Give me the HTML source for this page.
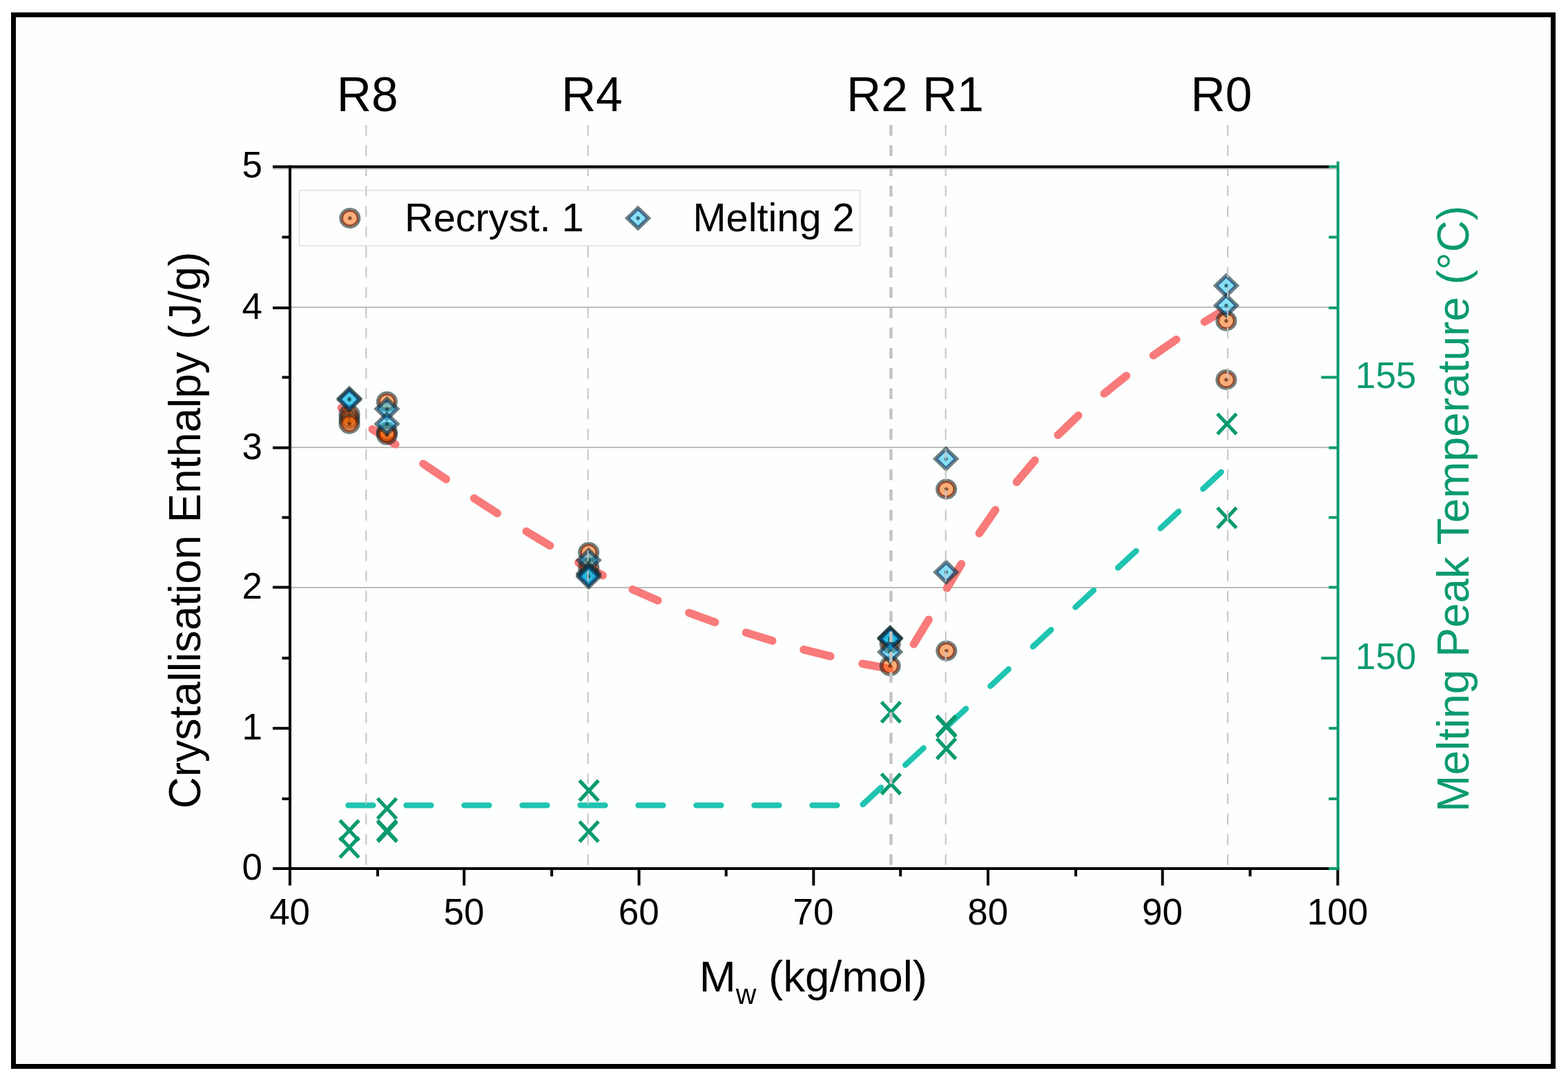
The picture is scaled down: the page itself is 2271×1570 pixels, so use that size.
<!DOCTYPE html>
<html lang="en"><head><meta charset="utf-8">
<title>Crystallisation Enthalpy and Melting Peak Temperature vs Mw</title>
<style>
html,body{margin:0;padding:0;background:#fff;}
body{width:2271px;height:1570px;overflow:hidden;}
svg{display:block;}
text{font-family:"Liberation Sans", sans-serif;}
</style></head><body>
<svg width="2271" height="1570" viewBox="0 0 2271 1570">
<defs>
<g id="mc"><ellipse rx="12.7" ry="12.1" fill="#f9690a" fill-opacity="0.55"/><ellipse rx="11.3" ry="10.7" fill="none" stroke="#520a00" stroke-opacity="0.6" stroke-width="2.9"/><ellipse rx="14.1" ry="13.5" fill="none" stroke="#112b2b" stroke-opacity="0.6" stroke-width="2.9"/><circle r="2.7" fill="#4a1c08" fill-opacity="0.65"/></g>
<g id="md"><path d="M0 -14.7 L15.3 0 L0 14.7 L-15.3 0 Z" fill="#19c3eb" fill-opacity="0.52"/><path d="M0 -12.8 L13.3 0 L0 12.8 L-13.3 0 Z" fill="none" stroke="#07194e" stroke-opacity="0.6" stroke-width="2.8"/><path d="M0 -16.6 L17.2 0 L0 16.6 L-17.2 0 Z" fill="none" stroke="#112b2b" stroke-opacity="0.6" stroke-width="2.8"/><circle r="2.7" fill="#06303c" fill-opacity="0.65"/></g>
<path id="mx" d="M-13.8 -14.7 L13.8 14.7 M13.8 -14.7 L-13.8 14.7" fill="none" stroke="#0a9a70" stroke-width="5.2"/>
</defs>
<rect x="0" y="0" width="2271" height="1570" fill="#ffffff"/>
<rect x="19.5" y="21.5" width="2230" height="1523" fill="#fdfefe" stroke="#000" stroke-width="7"/>
<g stroke="#bcbcbc" stroke-width="2" fill="none">
<line x1="422" y1="851.0" x2="1936" y2="851.0"/>
<line x1="422" y1="648.0" x2="1936" y2="648.0"/>
<line x1="422" y1="445.0" x2="1936" y2="445.0"/>
</g>
<rect x="433.5" y="275.8" width="812" height="80.2" fill="#fefefe" stroke="#dfe0e6" stroke-width="1.6"/>
<g stroke="#f87a7a" stroke-width="11.6" stroke-linecap="round" fill="none">
<line x1="494.4" y1="590.8" x2="499.0" y2="594.0"/>
<line x1="539.3" y1="621.6" x2="572.7" y2="643.6"/>
<line x1="613.0" y1="671.7" x2="646.2" y2="694.1"/>
<line x1="686.6" y1="721.6" x2="720.2" y2="743.4"/>
<line x1="762.3" y1="769.6" x2="796.5" y2="790.2"/>
<line x1="837.8" y1="814.9" x2="873.2" y2="833.5"/>
<line x1="916.2" y1="853.7" x2="952.8" y2="869.7"/>
<line x1="998.0" y1="887.5" x2="1035.6" y2="901.3"/>
<line x1="1080.5" y1="916.2" x2="1118.7" y2="928.0"/>
<line x1="1164.0" y1="940.9" x2="1202.8" y2="950.5"/>
<line x1="1249.0" y1="961.3" x2="1288.4" y2="968.5"/>
<line x1="1323.4" y1="932.9" x2="1345.0" y2="897.5"/>
<line x1="1371.4" y1="852.0" x2="1392.4" y2="816.8"/>
<line x1="1418.4" y1="772.4" x2="1441.6" y2="738.6"/>
<line x1="1472.5" y1="698.2" x2="1498.9" y2="666.8"/>
<line x1="1532.3" y1="630.2" x2="1561.7" y2="601.8"/>
<line x1="1599.3" y1="570.0" x2="1631.3" y2="544.2"/>
<line x1="1670.5" y1="514.7" x2="1703.7" y2="491.7"/>
<line x1="1744.5" y1="466.1" x2="1766.7" y2="452.7"/>
</g>
<g stroke="#1fc4b0" stroke-width="8.4" stroke-dasharray="36 48" stroke-linecap="round" fill="none">
<line x1="504.4" y1="1166.4" x2="1232" y2="1166.4"/>
<line x1="1249.6" y1="1165.1" x2="1771" y2="681.6"/>
</g>
<g>
<use href="#mc" x="506.0" y="600.0"/>
<use href="#mc" x="506.0" y="607.0"/>
<use href="#mc" x="506.0" y="613.7"/>
<use href="#mc" x="560.4" y="581.8"/>
<use href="#mc" x="560.4" y="626.0"/>
<use href="#mc" x="560.4" y="629.8"/>
<use href="#mc" x="852.6" y="800.0"/>
<use href="#mc" x="852.6" y="822.0"/>
<use href="#mc" x="1289.2" y="932.0"/>
<use href="#mc" x="1289.2" y="964.5"/>
<use href="#mc" x="1370.6" y="708.5"/>
<use href="#mc" x="1370.8" y="942.6"/>
<use href="#mc" x="1776.0" y="464.7"/>
<use href="#mc" x="1776.0" y="550.0"/>
<use href="#md" x="506.0" y="577.0"/>
<use href="#md" x="506.0" y="579.0"/>
<use href="#md" x="560.4" y="592.2"/>
<use href="#md" x="560.4" y="614.0"/>
<use href="#md" x="852.6" y="811.3"/>
<use href="#md" x="852.6" y="830.5"/>
<use href="#md" x="852.6" y="833.0"/>
<use href="#md" x="852.6" y="835.6"/>
<use href="#md" x="1289.2" y="923.4"/>
<use href="#md" x="1289.2" y="924.4"/>
<use href="#md" x="1289.2" y="925.6"/>
<use href="#md" x="1289.2" y="944.2"/>
<use href="#md" x="1370.1" y="664.6"/>
<use href="#md" x="1370.3" y="828.7"/>
<use href="#md" x="1776.0" y="413.8"/>
<use href="#md" x="1776.0" y="442.4"/>
<use href="#mx" x="506.0" y="1202.8"/>
<use href="#mx" x="506.0" y="1227.3"/>
<use href="#mx" x="560.5" y="1171.0"/>
<use href="#mx" x="560.5" y="1203.0"/>
<use href="#mx" x="561.0" y="1204.6"/>
<use href="#mx" x="853.0" y="1145.1"/>
<use href="#mx" x="853.0" y="1204.4"/>
<use href="#mx" x="1290.4" y="1031.5"/>
<use href="#mx" x="1290.4" y="1135.4"/>
<use href="#mx" x="1370.6" y="1051.2"/>
<use href="#mx" x="1370.6" y="1052.6"/>
<use href="#mx" x="1370.6" y="1084.4"/>
<use href="#mx" x="1777.0" y="614.0"/>
<use href="#mx" x="1777.0" y="750.0"/>
</g>
<use href="#mc" x="506.8" y="316"/>
<use href="#md" x="924" y="316"/>
<line x1="530.3" y1="181.0" x2="530.3" y2="1256.0" stroke="#c4c4c4" stroke-width="2" stroke-dasharray="15.6 13.74" stroke-dashoffset="0.0" fill="none"/>
<line x1="851.6" y1="181.0" x2="851.6" y2="275.0" stroke="#c4c4c4" stroke-width="2" stroke-dasharray="15.6 13.74" stroke-dashoffset="0.0" fill="none"/>
<line x1="851.6" y1="356.8" x2="851.6" y2="1256.0" stroke="#c4c4c4" stroke-width="2" stroke-dasharray="15.6 13.74" stroke-dashoffset="29.1" fill="none"/>
<line x1="1290.4" y1="181.0" x2="1290.4" y2="1256.0" stroke="#c4c4c4" stroke-width="4.5" stroke-dasharray="15.6 13.74" stroke-dashoffset="0.0" fill="none"/>
<line x1="1369.7" y1="181.0" x2="1369.7" y2="1256.0" stroke="#c4c4c4" stroke-width="2" stroke-dasharray="15.6 13.74" stroke-dashoffset="0.0" fill="none"/>
<line x1="1778.2" y1="181.0" x2="1778.2" y2="1256.0" stroke="#c4c4c4" stroke-width="2" stroke-dasharray="15.6 13.74" stroke-dashoffset="0.0" fill="none"/>
<line x1="395" y1="244.5" x2="1936" y2="244.5" stroke="#c9c3c6" stroke-width="2"/>
<g stroke="#000" stroke-width="4" fill="none">
<line x1="420" y1="239.5" x2="420" y2="1260"/>
<line x1="395" y1="1258" x2="1940" y2="1258"/>
<line x1="395" y1="241.4" x2="1925" y2="241.4"/>
<line x1="395" y1="1054.8" x2="420" y2="1054.8"/>
<line x1="395" y1="850.6" x2="420" y2="850.6"/>
<line x1="395" y1="648.5" x2="420" y2="648.5"/>
<line x1="395" y1="445.9" x2="420" y2="445.9"/>
<line x1="408.5" y1="1157.0" x2="420" y2="1157.0"/>
<line x1="408.5" y1="953.2" x2="420" y2="953.2"/>
<line x1="408.5" y1="749.5" x2="420" y2="749.5"/>
<line x1="408.5" y1="546.5" x2="420" y2="546.5"/>
<line x1="408.5" y1="343.5" x2="420" y2="343.5"/>
<line x1="419.9" y1="1258" x2="419.9" y2="1282.5"/>
<line x1="672.2" y1="1258" x2="672.2" y2="1282.5"/>
<line x1="925.5" y1="1258" x2="925.5" y2="1282.5"/>
<line x1="1178.3" y1="1258" x2="1178.3" y2="1282.5"/>
<line x1="1431.0" y1="1258" x2="1431.0" y2="1282.5"/>
<line x1="1683.7" y1="1258" x2="1683.7" y2="1282.5"/>
<line x1="1937.5" y1="1258" x2="1937.5" y2="1282.5"/>
<line x1="547.0" y1="1258" x2="547.0" y2="1269.3"/>
<line x1="799.1" y1="1258" x2="799.1" y2="1269.3"/>
<line x1="1051.7" y1="1258" x2="1051.7" y2="1269.3"/>
<line x1="1304.2" y1="1258" x2="1304.2" y2="1269.3"/>
<line x1="1558.1" y1="1258" x2="1558.1" y2="1269.3"/>
<line x1="1810.6" y1="1258" x2="1810.6" y2="1269.3"/>
</g>
<g stroke="#0a9a70" stroke-width="4" fill="none">
<line x1="1937.8" y1="234" x2="1937.8" y2="1260"/>
<line x1="1924.5" y1="241.4" x2="1937.8" y2="241.4"/>
<line x1="1924.5" y1="343.5" x2="1937.8" y2="343.5"/>
<line x1="1924.5" y1="445.9" x2="1937.8" y2="445.9"/>
<line x1="1913.5" y1="546.5" x2="1937.8" y2="546.5"/>
<line x1="1924.5" y1="648.5" x2="1937.8" y2="648.5"/>
<line x1="1924.5" y1="749.5" x2="1937.8" y2="749.5"/>
<line x1="1924.5" y1="850.6" x2="1937.8" y2="850.6"/>
<line x1="1913.5" y1="953.2" x2="1937.8" y2="953.2"/>
<line x1="1924.5" y1="1054.8" x2="1937.8" y2="1054.8"/>
<line x1="1924.5" y1="1157.0" x2="1937.8" y2="1157.0"/>
<line x1="1924.5" y1="1258.0" x2="1937.8" y2="1258.0"/>
</g>
<text transform="translate(379.9 1274.0) scale(0.980 1)" font-size="54" fill="#000" text-anchor="end">0</text>
<text transform="translate(379.9 1070.8) scale(0.980 1)" font-size="54" fill="#000" text-anchor="end">1</text>
<text transform="translate(379.9 866.6) scale(0.980 1)" font-size="54" fill="#000" text-anchor="end">2</text>
<text transform="translate(379.9 664.5) scale(0.980 1)" font-size="54" fill="#000" text-anchor="end">3</text>
<text transform="translate(379.9 461.9) scale(0.980 1)" font-size="54" fill="#000" text-anchor="end">4</text>
<text transform="translate(379.9 257.4) scale(0.980 1)" font-size="54" fill="#000" text-anchor="end">5</text>
<text transform="translate(419.6 1339.0) scale(0.980 1)" font-size="54" fill="#000" text-anchor="middle">40</text>
<text transform="translate(671.9 1339.0) scale(0.980 1)" font-size="54" fill="#000" text-anchor="middle">50</text>
<text transform="translate(925.2 1339.0) scale(0.980 1)" font-size="54" fill="#000" text-anchor="middle">60</text>
<text transform="translate(1178.0 1339.0) scale(0.980 1)" font-size="54" fill="#000" text-anchor="middle">70</text>
<text transform="translate(1430.7 1339.0) scale(0.980 1)" font-size="54" fill="#000" text-anchor="middle">80</text>
<text transform="translate(1683.4 1339.0) scale(0.980 1)" font-size="54" fill="#000" text-anchor="middle">90</text>
<text transform="translate(1937.2 1339.0) scale(0.980 1)" font-size="54" fill="#000" text-anchor="middle">100</text>
<text transform="translate(1963.0 561.8) scale(0.980 1)" font-size="54" fill="#0a9a70">155</text>
<text transform="translate(1963.0 969.2) scale(0.980 1)" font-size="54" fill="#0a9a70">150</text>
<text transform="translate(487.8 161.0)" font-size="69.5" fill="#000">R8</text>
<text transform="translate(812.9 161.0)" font-size="69.5" fill="#000">R4</text>
<text transform="translate(1226.1 161.0)" font-size="69.5" fill="#000">R2</text>
<text transform="translate(1336.0 161.0)" font-size="69.5" fill="#000">R1</text>
<text transform="translate(1724.6 161.0)" font-size="69.5" fill="#000">R0</text>
<text transform="translate(586.0 334.9)" font-size="57.7" fill="#000">Recryst. 1</text>
<text transform="translate(1003.5 334.9)" font-size="57.7" fill="#000">Melting 2</text>
<text transform="translate(1012.7 1435.8)" font-size="63.7" fill="#000">M<tspan font-size="41" dy="17.7">w</tspan><tspan dy="-17.7"> (kg/mol)</tspan></text>
<text transform="translate(290.3 1171.3) rotate(-90) scale(0.995 1)" font-size="64" fill="#000">Crystallisation Enthalpy (J/g)</text>
<text transform="translate(2127.4 1175.9) rotate(-90)" font-size="64" fill="#0a9a70">Melting Peak Temperature (°C)</text>
</svg>
</body></html>
